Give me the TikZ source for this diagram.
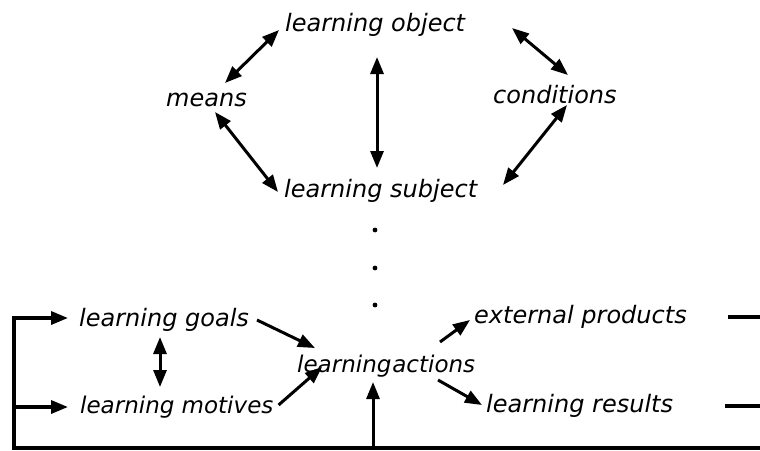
\documentclass[tikz,border=0pt]{standalone}
\usepackage{fontspec}
\setmainfont{DejaVu Sans}
\usetikzlibrary{arrows.meta,calc}

\begin{document}
\begin{tikzpicture}[x=1pt,y=-1pt,
  lbl/.style={anchor=base west,inner sep=0pt,font=\fontsize{24}{24}\selectfont\itshape},
  small/.style={font=\fontsize{23}{23}\selectfont\itshape},
  tipA/.tip={Triangle[length=17pt,width=13pt]},
  link/.style={line width=3pt,-tipA},
  both/.style={line width=3pt,tipA-tipA},
  rule/.style={line width=3.4pt}]
\useasboundingbox (0,0) rectangle (760,450);

% labels
\node[lbl] (lobj)    at (285,31)  {learning object};
\node[lbl] (means)   at (166,106) {means};
\node[lbl] (cond)    at (493,103) {conditions};
\node[lbl] (lsubj)   at (284,197) {learning subject};
\node[lbl] (goals)   at (79,326)  {learning goals};
\node[lbl,small] (motives) at (80,413)  {learning motives};
\node[lbl,small] (actions) at (297,372) {learning\hspace{0.04em}actions};
\node[lbl] (ext)     at (474,323) {external products};
\node[lbl] (res)     at (486,412) {learning results};

% upper ring of mutual relations
\draw[both] ([shift={(-6,-1)}]lobj.base west) -- ([shift={(59,-23)}]means.base west);
\draw[both] ([shift={(49,6)}]means.base west) -- ([shift={(-6,-5)}]lsubj.base west);
\draw[both] ([shift={(92,26)}]lobj.base west) -- ([shift={(93,-29)}]lsubj.base west);
\draw[both] ([shift={(227,-3)}]lobj.base west) -- ([shift={(75,-28)}]cond.base west);
\draw[both] ([shift={(74,2)}]cond.base west) -- ([shift={(219,-12)}]lsubj.base west);

% dotted link down to the action level
\foreach \yy in {230,268,305} \fill (375,\yy) circle (2.4);

% action level
\draw[link] ([shift={(178,-6)}]goals.base west) -- ([shift={(18,-24)}]actions.base west);
\draw[both] ([shift={(81,11)}]goals.base west) -- ([shift={(80,-26)}]motives.base west);
\draw[link] ([shift={(5,-8)}]motives.base east) -- ([shift={(25,-5)}]actions.base west);
\draw[link] ([shift={(143,-30)}]actions.base west) -- ([shift={(-4,-3)}]ext.base west);
\draw[link] ([shift={(141,8)}]actions.base west) -- ([shift={(-4,-7)}]res.base west);

% outputs leaving to the right
\coordinate (extR) at (760,317);
\coordinate (resR) at (760,406);
\draw[rule] ([shift={(254,0)}]ext.west |- extR) -- (extR);
\draw[rule] ([shift={(239,0)}]res.west |- resR) -- (resR);

% feedback loop
\coordinate (loopR) at (760,448);
\coordinate (loopL) at (14,448);
\coordinate (loopA) at (373,448);
\coordinate (loopM) at (14,407);
\draw[rule,line join=miter] (loopR) -- (loopL) -- (loopM);
\draw[rule,-tipA,line join=miter] (loopM) |- ([shift={(-11,-8)}]goals.base west);
\draw[rule,-tipA] (loopM) -- ([shift={(-12,-6)}]motives.base west);
\draw[link] (loopA) -- ([shift={(76,10)}]actions.base west);
\end{tikzpicture}
\end{document}
